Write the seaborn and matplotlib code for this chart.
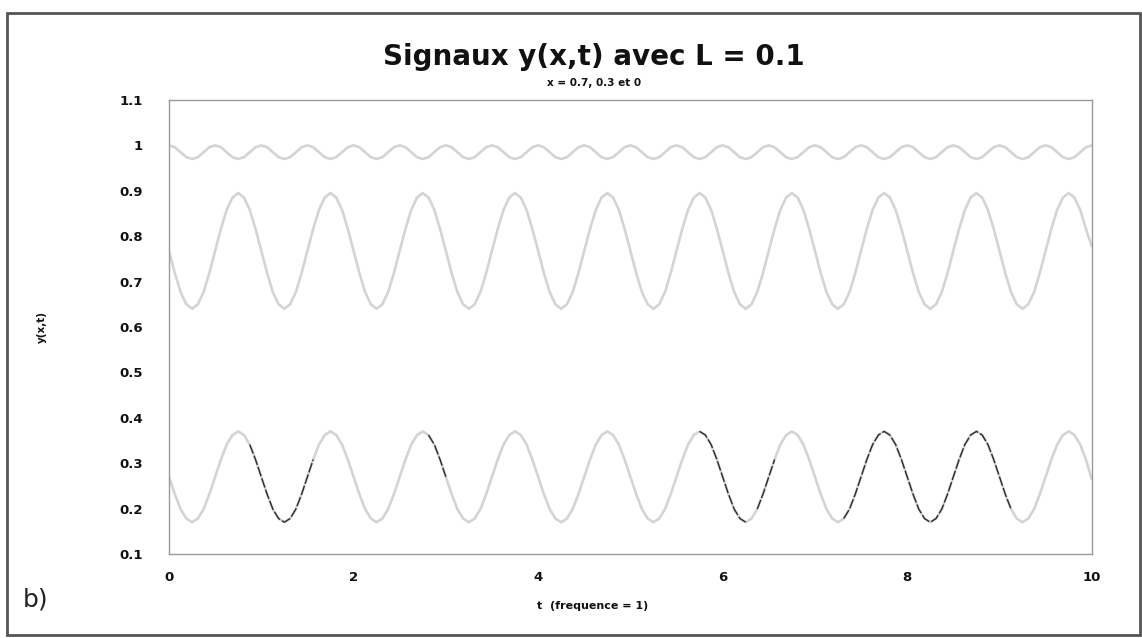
import numpy as np
import pandas as pd
import matplotlib
matplotlib.use("Agg")
import matplotlib.pyplot as plt
from matplotlib.patches import Rectangle
import seaborn as sns

# Sampling instants (1/16 of a period), t from 0 to 10
t = np.arange(161) / 16.0

# Signal at the top (small oscillation around 1)
y_top = [
    1.000, 0.996, 0.985, 0.974, 0.970, 0.974, 0.985, 0.996, 1.000, 0.996, 0.985, 0.974, 0.970, 0.974, 0.985, 0.996,
    1.000, 0.996, 0.985, 0.974, 0.970, 0.974, 0.985, 0.996, 1.000, 0.996, 0.985, 0.974, 0.970, 0.974, 0.985, 0.996,
    1.000, 0.996, 0.985, 0.974, 0.970, 0.974, 0.985, 0.996, 1.000, 0.996, 0.985, 0.974, 0.970, 0.974, 0.985, 0.996,
    1.000, 0.996, 0.985, 0.974, 0.970, 0.974, 0.985, 0.996, 1.000, 0.996, 0.985, 0.974, 0.970, 0.974, 0.985, 0.996,
    1.000, 0.996, 0.985, 0.974, 0.970, 0.974, 0.985, 0.996, 1.000, 0.996, 0.985, 0.974, 0.970, 0.974, 0.985, 0.996,
    1.000, 0.996, 0.985, 0.974, 0.970, 0.974, 0.985, 0.996, 1.000, 0.996, 0.985, 0.974, 0.970, 0.974, 0.985, 0.996,
    1.000, 0.996, 0.985, 0.974, 0.970, 0.974, 0.985, 0.996, 1.000, 0.996, 0.985, 0.974, 0.970, 0.974, 0.985, 0.996,
    1.000, 0.996, 0.985, 0.974, 0.970, 0.974, 0.985, 0.996, 1.000, 0.996, 0.985, 0.974, 0.970, 0.974, 0.985, 0.996,
    1.000, 0.996, 0.985, 0.974, 0.970, 0.974, 0.985, 0.996, 1.000, 0.996, 0.985, 0.974, 0.970, 0.974, 0.985, 0.996,
    1.000, 0.996, 0.985, 0.974, 0.970, 0.974, 0.985, 0.996, 1.000, 0.996, 0.985, 0.974, 0.970, 0.974, 0.985, 0.996,
    1.000,
]

# Middle signal
y_mid = [
    0.768, 0.719, 0.677, 0.650, 0.640, 0.650, 0.677, 0.719, 0.768, 0.816, 0.858, 0.885, 0.895, 0.885, 0.858, 0.816,
    0.768, 0.719, 0.677, 0.650, 0.640, 0.650, 0.677, 0.719, 0.768, 0.816, 0.858, 0.885, 0.895, 0.885, 0.858, 0.816,
    0.768, 0.719, 0.677, 0.650, 0.640, 0.650, 0.677, 0.719, 0.768, 0.816, 0.858, 0.885, 0.895, 0.885, 0.858, 0.816,
    0.768, 0.719, 0.677, 0.650, 0.640, 0.650, 0.677, 0.719, 0.768, 0.816, 0.858, 0.885, 0.895, 0.885, 0.858, 0.816,
    0.768, 0.719, 0.677, 0.650, 0.640, 0.650, 0.677, 0.719, 0.768, 0.816, 0.858, 0.885, 0.895, 0.885, 0.858, 0.816,
    0.768, 0.719, 0.677, 0.650, 0.640, 0.650, 0.677, 0.719, 0.768, 0.816, 0.858, 0.885, 0.895, 0.885, 0.858, 0.816,
    0.768, 0.719, 0.677, 0.650, 0.640, 0.650, 0.677, 0.719, 0.768, 0.816, 0.858, 0.885, 0.895, 0.885, 0.858, 0.816,
    0.768, 0.719, 0.677, 0.650, 0.640, 0.650, 0.677, 0.719, 0.768, 0.816, 0.858, 0.885, 0.895, 0.885, 0.858, 0.816,
    0.768, 0.719, 0.677, 0.650, 0.640, 0.650, 0.677, 0.719, 0.768, 0.816, 0.858, 0.885, 0.895, 0.885, 0.858, 0.816,
    0.768, 0.719, 0.677, 0.650, 0.640, 0.650, 0.677, 0.719, 0.768, 0.816, 0.858, 0.885, 0.895, 0.885, 0.858, 0.816,
    0.778,
]

# Bottom signal
y_bot = [
    0.270, 0.232, 0.199, 0.178, 0.170, 0.178, 0.199, 0.232, 0.270, 0.308, 0.341, 0.362, 0.370, 0.362, 0.341, 0.308,
    0.270, 0.232, 0.199, 0.178, 0.170, 0.178, 0.199, 0.232, 0.270, 0.308, 0.341, 0.362, 0.370, 0.362, 0.341, 0.308,
    0.270, 0.232, 0.199, 0.178, 0.170, 0.178, 0.199, 0.232, 0.270, 0.308, 0.341, 0.362, 0.370, 0.362, 0.341, 0.308,
    0.270, 0.232, 0.199, 0.178, 0.170, 0.178, 0.199, 0.232, 0.270, 0.308, 0.341, 0.362, 0.370, 0.362, 0.341, 0.308,
    0.270, 0.232, 0.199, 0.178, 0.170, 0.178, 0.199, 0.232, 0.270, 0.308, 0.341, 0.362, 0.370, 0.362, 0.341, 0.308,
    0.270, 0.232, 0.199, 0.178, 0.170, 0.178, 0.199, 0.232, 0.270, 0.308, 0.341, 0.362, 0.370, 0.362, 0.341, 0.308,
    0.270, 0.232, 0.199, 0.178, 0.170, 0.178, 0.199, 0.232, 0.270, 0.308, 0.341, 0.362, 0.370, 0.362, 0.341, 0.308,
    0.270, 0.232, 0.199, 0.178, 0.170, 0.178, 0.199, 0.232, 0.270, 0.308, 0.341, 0.362, 0.370, 0.362, 0.341, 0.308,
    0.270, 0.232, 0.199, 0.178, 0.170, 0.178, 0.199, 0.232, 0.270, 0.308, 0.341, 0.362, 0.370, 0.362, 0.341, 0.308,
    0.270, 0.232, 0.199, 0.178, 0.170, 0.178, 0.199, 0.232, 0.270, 0.308, 0.341, 0.362, 0.370, 0.362, 0.341, 0.308,
    0.265,
]

# Stretches of the bottom signal traced in dark ink
dark_spans = [(0.83, 1.58), (2.8, 3.05), (5.75, 6.3), (6.37, 6.62), (7.3, 9.13)]

x_ticks = [0, 1, 2, 3, 4, 5, 6, 7, 8, 9, 10]
x_labels = ["0", "", "2", "", "4", "", "6", "", "8", "", "10"]
y_ticks = [0.1, 0.2, 0.3, 0.4, 0.5, 0.6, 0.7, 0.8, 0.9, 1.0, 1.1]
y_labels = ["0.1", "0.2", "0.3", "0.4", "0.5", "0.6", "0.7", "0.8", "0.9", "1", "1.1"]

sns.set_theme(style="white")
plt.rcParams["font.family"] = ["DejaVu Sans"]

df = pd.concat([
    pd.DataFrame({"t": t, "y": y_top, "serie": "x = 0"}),
    pd.DataFrame({"t": t, "y": y_mid, "serie": "x = 0.3"}),
    pd.DataFrame({"t": t, "y": y_bot, "serie": "x = 0.7"}),
])

fig = plt.figure(figsize=(11.42, 6.38), dpi=100)
ax = fig.add_axes([0.148, 0.1317, 0.808, 0.7116])

light = "#d4d4d4"
sns.lineplot(data=df, x="t", y="y", hue="serie", palette=[light, light, light],
             linewidth=1.9, legend=False, ax=ax, estimator=None, sort=False)

t_arr = np.asarray(t)
bot_arr = np.asarray(y_bot)
for a, b in dark_spans:
    m = (t_arr >= a - 1e-9) & (t_arr <= b + 1e-9)
    ax.plot(t_arr[m], bot_arr[m], color="#2a2a2a", linewidth=1.0,
            linestyle=(0, (7, 1.6)))

ax.set_xlim(0, 10)
ax.set_ylim(0.1, 1.1)
ax.set_xticks(x_ticks)
ax.set_xticklabels(x_labels)
ax.set_yticks(y_ticks)
ax.set_yticklabels(y_labels)
for lab in ax.get_xticklabels() + ax.get_yticklabels():
    lab.set_fontweight("bold")
    lab.set_fontsize(9.5)
    lab.set_color("#111111")
ax.tick_params(axis="y", direction="out", length=7, width=0.8, color="#888888", pad=12)
ax.tick_params(axis="x", direction="inout", length=6, width=0.8, color="#aaaaaa", pad=9)

for side in ["left", "right", "top", "bottom"]:
    ax.spines[side].set_color("#9a9a9a")
    ax.spines[side].set_linewidth(1.0)

ax.set_xlabel("t  (frequence = 1)", fontsize=8, fontweight="bold", color="#111111")
ax.xaxis.set_label_coords(0.459, -0.103)
ax.set_ylabel("y(x,t)", fontsize=7.5, fontweight="bold", labelpad=52, color="#111111")

fig.text(0.52, 0.91, "Signaux y(x,t) avec L = 0.1", ha="center", va="center",
         fontsize=20, fontweight="bold", color="#111111")
fig.text(0.52, 0.870, "x = 0.7, 0.3 et 0", ha="center", va="center",
         fontsize=7.5, fontweight="bold", color="#111111")
fig.text(0.020, 0.060, "b)", ha="left", va="center", fontsize=18, color="#222222")

fig.patches.append(Rectangle((0.006, 0.004), 0.992, 0.976, transform=fig.transFigure,
                             fill=False, edgecolor="#555555", linewidth=2.0))

fig.savefig("out.png", dpi=100)
